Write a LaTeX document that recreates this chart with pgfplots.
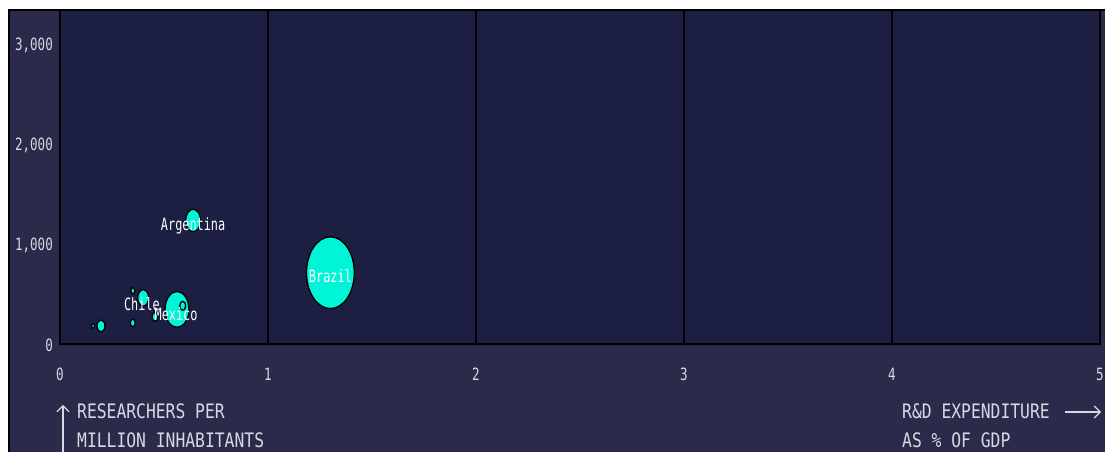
\documentclass[border=0pt]{standalone}
\usepackage{fontspec}
\usepackage{pgfplots}
\pgfplotsset{compat=1.18}
\usetikzlibrary{arrows.meta}
\setmainfont{DejaVu Sans}
\newfontfamily\tickfont[FakeStretch=0.74]{DejaVu Sans Mono}
\newfontfamily\labfont[FakeStretch=0.7]{DejaVu Sans Mono}
\newfontfamily\titfont[FakeStretch=0.82]{DejaVu Sans Mono}
\definecolor{outerbg}{HTML}{2A2A4A}
\definecolor{plotbg}{HTML}{1C1E42}
\definecolor{bubble}{HTML}{00F5D8}
\definecolor{txt}{HTML}{D8D8E4}
\pgfplotstableread{
x y r
1.30 715 24
0.5625 347 12
0.64 1239 7.5
0.40 463 5.5
0.197 181 4
0.59 383 3
0.457 272 3
0.35 211 2.5
0.35 534 2
0.159 181 1.5
}\bubbles
\begin{document}
\begin{tikzpicture}[x=1bp,y=1bp]
\useasboundingbox (0,0) rectangle (1105,452);
\clip (0,0) rectangle (1105,452);
\fill[white] (0,0) rectangle (1105,452);
\fill[outerbg] (9,-2) rectangle (1107,442);
\draw[black, line width=1.5bp] (9,-2) -- (9,442) -- (1107,442);
\begin{axis}[at={(60bp,108bp)}, anchor=south west, scale only axis,
  width=1040bp, height=334bp,
  xmin=0, xmax=5, ymin=0, ymax=3350,
  xtick={0,1,2,3,4,5}, ytick={0,1000,2000,3000},
  scaled y ticks=false,
  /pgf/number format/1000 sep={,},
  /pgf/number format/assume math mode=true,
  axis background/.style={fill=plotbg},
  axis line style={black, line width=2bp},
  xmajorgrids, grid style={black, line width=1.5bp},
  major tick length=0pt,
  tick label style={font=\tickfont\fontsize{17}{19}\selectfont, text=txt},
  xticklabel style={anchor=center, yshift=-30bp},
  yticklabel style={anchor=east, inner sep=0pt, xshift=-7bp, yshift=-1bp},
]
\addplot[scatter, only marks, mark=*,
  scatter/use mapped color={draw=black, fill=bubble},
  visualization depends on={\thisrow{r}\as\rad},
  scatter/@pre marker code/.append style={/tikz/mark size=\rad},
  mark options={line width=1.3bp, yscale=1.5}]
  table[x=x, y=y] {\bubbles};
\addplot[only marks, mark=none, nodes near coords, point meta=explicit symbolic,
  every node near coord/.style={anchor=center, inner sep=0pt,
    font=\labfont\fontsize{17}{19}\selectfont, text=white}]
  coordinates {(0.64,1184)[Argentina] (1.30,682)[Brazil] (0.394,401)[Chile] (0.558,301)[Mexico]};
\end{axis}
\begin{scope}[every node/.style={font=\titfont\fontsize{20}{22}\selectfont, text=txt, inner sep=0pt, anchor=base west}]
\node at (77,33) {RESEARCHERS PER};
\node at (77,4) {MILLION INHABITANTS};
\node at (902,33) {R\&D EXPENDITURE};
\node at (902,4) {AS \% OF GDP};
\end{scope}
\draw[txt, line width=1.2bp, -{Straight Barb[length=6bp,width=12bp]}] (63,-5) -- (63,47);
\draw[txt, line width=1.2bp, -{Straight Barb[length=6bp,width=12bp]}] (1065,40) -- (1101,40);
\end{tikzpicture}
\end{document}
